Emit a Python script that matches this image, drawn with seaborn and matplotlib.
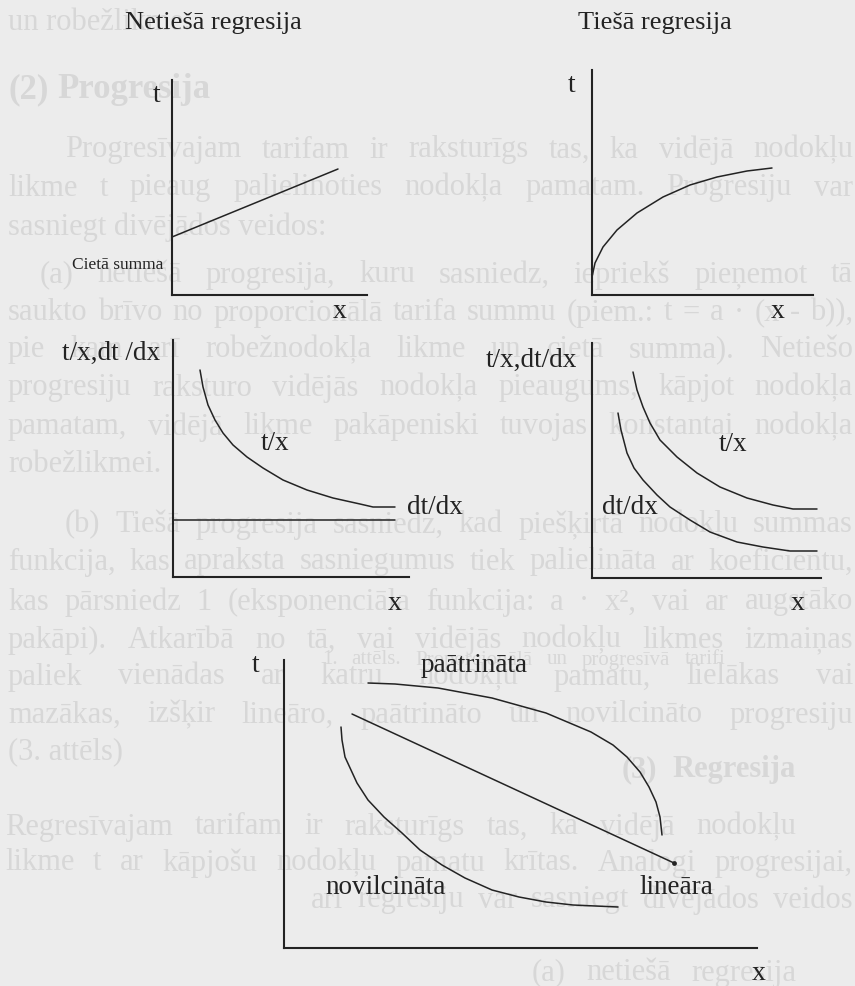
import matplotlib
matplotlib.use("Agg")
import matplotlib.pyplot as plt
import numpy as np
import seaborn as sns

# ---------------------------------------------------------------------------
# Data (schematic units: x = tax base, t = tax amount / rates)
# ---------------------------------------------------------------------------
# Netiešā regresija: fixed sum plus a flatter linear part
indirect_x = [0, 166]
indirect_t = [58, 126]

# Tiešā regresija: concave tax function
direct_x = [0, 3, 11, 25, 45, 71, 98, 125, 155, 180]
direct_t = [18, 32, 48, 65, 82, 98, 110, 118, 124, 127]

# average (t/x) and marginal (dt/dx) rates, indirect case
ind_avg_x = [27, 30, 35, 42, 50, 60, 74, 90, 110, 134, 160, 187, 200, 222]
ind_avg_t = [207, 190, 172, 157, 144, 132, 120, 109, 97, 87, 79, 73, 70, 70]
ind_marg_x = [0, 222]
ind_marg_t = [57, 57]

# average (t/x) and marginal (dt/dx) rates, direct case
dir_avg_x = [41, 45, 51, 58, 68, 85, 105, 128, 155, 181, 201, 225]
dir_avg_t = [206, 188, 171, 155, 138, 121, 105, 91, 80, 73, 69, 69]
dir_marg_x = [26, 29, 35, 42, 51, 65, 78, 98, 118, 145, 171, 198, 225]
dir_marg_t = [165, 148, 125, 110, 98, 83, 71, 58, 46, 36, 31, 27, 27]

# three kinds of regression of the average rate
lin_x = [68, 390]
lin_t = [234, 85]
acc_x = [84, 111, 154, 208, 262, 307, 329, 343, 356, 365, 372, 376, 378]
acc_t = [265, 264, 260, 250, 235, 216, 203, 191, 176, 161, 146, 131, 113]
del_x = [57, 58, 61, 73, 84, 100, 118, 136, 158, 181, 208, 235, 262, 289, 334]
del_t = [221, 208, 191, 165, 148, 131, 115, 98, 83, 70, 58, 51, 46, 43, 41]

# ---------------------------------------------------------------------------
# Style
# ---------------------------------------------------------------------------
W_PX, H_PX, DPI = 855, 986, 100
PAPER = "#ececec"
INK = "#232323"
FAINT = "#d7d7d7"
AXIS_LW = 1.5
CURVE_LW = 1.1

sns.set_theme(style="white")
plt.rcParams["font.family"] = ["Liberation Serif", "DejaVu Serif"]

fig = plt.figure(figsize=(W_PX / DPI, H_PX / DPI), dpi=DPI, facecolor=PAPER)
renderer = fig.canvas.get_renderer()

# ---------------------------------------------------------------------------
# Faint print of the surrounding page text
# ---------------------------------------------------------------------------
page_lines = [
    ("un robežlikme.", 22, 8, None, 22, False),
    ("(2)  Progresija", 90, 8, 210, 25, True),
    ("Progresīvajam tarifam ir raksturīgs tas, ka vidējā nodokļu", 150, 65, 853, 22, False),
    ("likme  t pieaug palielinoties nodokļa pamatam. Progresiju var", 188, 8, 853, 22, False),
    ("sasniegt divējādos veidos:", 227, 8, None, 22, False),
    ("(a) netiešā progresija, kuru sasniedz, iepriekš pieņemot tā", 275, 40, 853, 22, False),
    ("saukto brīvo no proporcionālā tarifa summu (piem.: t = a · (x - b)),", 313, 8, 853, 22, False),
    ("pie kam arī robežnodokļa likme un cietā summa). Netiešo", 350, 8, 853, 22, False),
    ("progresiju raksturo vidējās nodokļa pieaugums, kāpjot nodokļa", 388, 8, 853, 22, False),
    ("pamatam, vidējā likme pakāpeniski tuvojas konstantai nodokļa", 427, 8, 853, 22, False),
    ("robežlikmei.", 465, 8, None, 22, False),
    ("(b) Tiešā progresija sasniedz, kad piešķirtā nodokļu summas", 525, 65, 853, 22, False),
    ("funkcija, kas apraksta sasniegumus tiek palielināta ar koeficientu,", 562, 8, 853, 22, False),
    ("kas pārsniedz 1 (eksponenciāla funkcija: a · x², vai ar augstāko", 602, 8, 853, 22, False),
    ("pakāpi). Atkarībā no tā, vai vidējās nodokļu likmes izmaiņas", 640, 8, 853, 22, False),
    ("1. attēls. Proporcionālā un progresīvā tarifi", 660, 322, 725, 15, False),
    ("paliek vienādas ar katru nodokļu pamatu, lielākas vai", 677, 8, 853, 22, False),
    ("mazākas, izšķir lineāro, paātrināto un novilcināto progresiju", 715, 8, 853, 22, False),
    ("(3. attēls)", 752, 8, None, 22, False),
    ("(3) Regresija", 770, 622, 796, 22, True),
    ("Regresīvajam tarifam ir raksturīgs tas, ka vidējā nodokļu", 827, 5, 796, 22, False),
    ("likme t ar kāpjošu nodokļu pamatu krītas. Analogi progresijai,", 863, 5, 853, 22, False),
    ("arī regresiju var sasniegt divējādos veidos", 900, 311, 853, 22, False),
    ("(a) netiešā regresija", 973, 532, 796, 22, False),
]


def page_line(text, y, x0, x1, size, bold):
    kw = dict(fontsize=size, fontweight="bold" if bold else "normal",
              color=FAINT, va="center", ha="left", zorder=-1)
    if x1 is None:
        fig.text(x0 / W_PX, 1 - y / H_PX, text, **kw)
        return
    words = text.split()
    arts = [fig.text(0, 0, w, **kw) for w in words]
    widths = [a.get_window_extent(renderer).width for a in arts]
    span = x1 - x0
    min_gap = size * DPI / 72 * 0.2
    natural = sum(widths) + min_gap * (len(words) - 1)
    if natural > span:
        k = span / natural
        for a in arts:
            a.set_fontsize(size * k)
        widths = [w * k for w in widths]
    gap = (span - sum(widths)) / max(len(words) - 1, 1)
    x = x0
    for a, w in zip(arts, widths):
        a.set_position((x / W_PX, 1 - y / H_PX))
        x += w + gap


for line in page_lines:
    page_line(*line)


# ---------------------------------------------------------------------------
# Diagram panels
# ---------------------------------------------------------------------------
def panel(x_left, y_top, x_right, y_axis):
    ax = fig.add_axes([x_left / W_PX, 1 - y_axis / H_PX,
                       (x_right - x_left) / W_PX, (y_axis - y_top) / H_PX])
    ax.set_facecolor("none")
    ax.set_xlim(0, x_right - x_left)
    ax.set_ylim(0, y_axis - y_top)
    sns.despine(ax=ax)
    for side in ("left", "bottom"):
        ax.spines[side].set_linewidth(AXIS_LW)
        ax.spines[side].set_color(INK)
    ax.tick_params(left=False, bottom=False, labelleft=False, labelbottom=False)
    ax.grid(False)
    return ax


def curve(ax, xs, ts):
    sns.lineplot(x=np.asarray(xs), y=np.asarray(ts), ax=ax, color=INK,
                 linewidth=CURVE_LW, sort=False, estimator=None)
    ax.set_xlabel("")
    ax.set_ylabel("")


def label(ax, x, y, s, size=19.5, ha="center"):
    ax.text(x, y, s, fontsize=size, color=INK, ha=ha, va="center", clip_on=False)


# Netiešā regresija
ax1 = panel(172, 80, 367, 295)
curve(ax1, indirect_x, indirect_t)
label(ax1, 41, 272, "Netiešā regresija", 19)
label(ax1, -15, 200, "t", 20)
label(ax1, 168, -17, "x", 20)
label(ax1, -54, 30, "Cietā summa", 12.5)

# Tiešā regresija
ax2 = panel(592, 70, 813, 295)
curve(ax2, direct_x, direct_t)
label(ax2, 63, 272, "Tiešā regresija", 19)
label(ax2, -20, 210, "t", 20)
label(ax2, 186, -17, "x", 20)

# rates, indirect case
ax3 = panel(173, 340, 409, 577)
curve(ax3, ind_avg_x, ind_avg_t)
curve(ax3, ind_marg_x, ind_marg_t)
label(ax3, -13, 224, "t/x,dt /dx", ha="right")
label(ax3, 102, 134, "t/x")
label(ax3, 234, 70, "dt/dx", ha="left")
label(ax3, 222, -26, "x", 20)

# rates, direct case
ax4 = panel(592, 343, 821, 578)
curve(ax4, dir_avg_x, dir_avg_t)
curve(ax4, dir_marg_x, dir_marg_t)
label(ax4, -15, 218, "t/x,dt/dx", ha="right")
label(ax4, 141, 133, "t/x")
label(ax4, 38, 70, "dt/dx")
label(ax4, 206, -25, "x", 20)

# linear / accelerated / delayed
ax5 = panel(284, 660, 757, 948)
curve(ax5, lin_x, lin_t)
sns.scatterplot(x=[lin_x[-1]], y=[lin_t[-1]], ax=ax5, color=INK, s=12,
                edgecolor=INK, linewidth=0)
curve(ax5, acc_x, acc_t)
curve(ax5, del_x, del_t)
ax5.set_xlim(0, 757 - 284)
ax5.set_ylim(0, 948 - 660)
label(ax5, -28, 283, "t", 20)
label(ax5, 475, -26, "x", 20)
label(ax5, 190, 283, "paātrināta")
label(ax5, 102, 61, "novilcināta")
label(ax5, 392, 61, "lineāra")

fig.savefig("out.png", dpi=DPI, facecolor=PAPER)
